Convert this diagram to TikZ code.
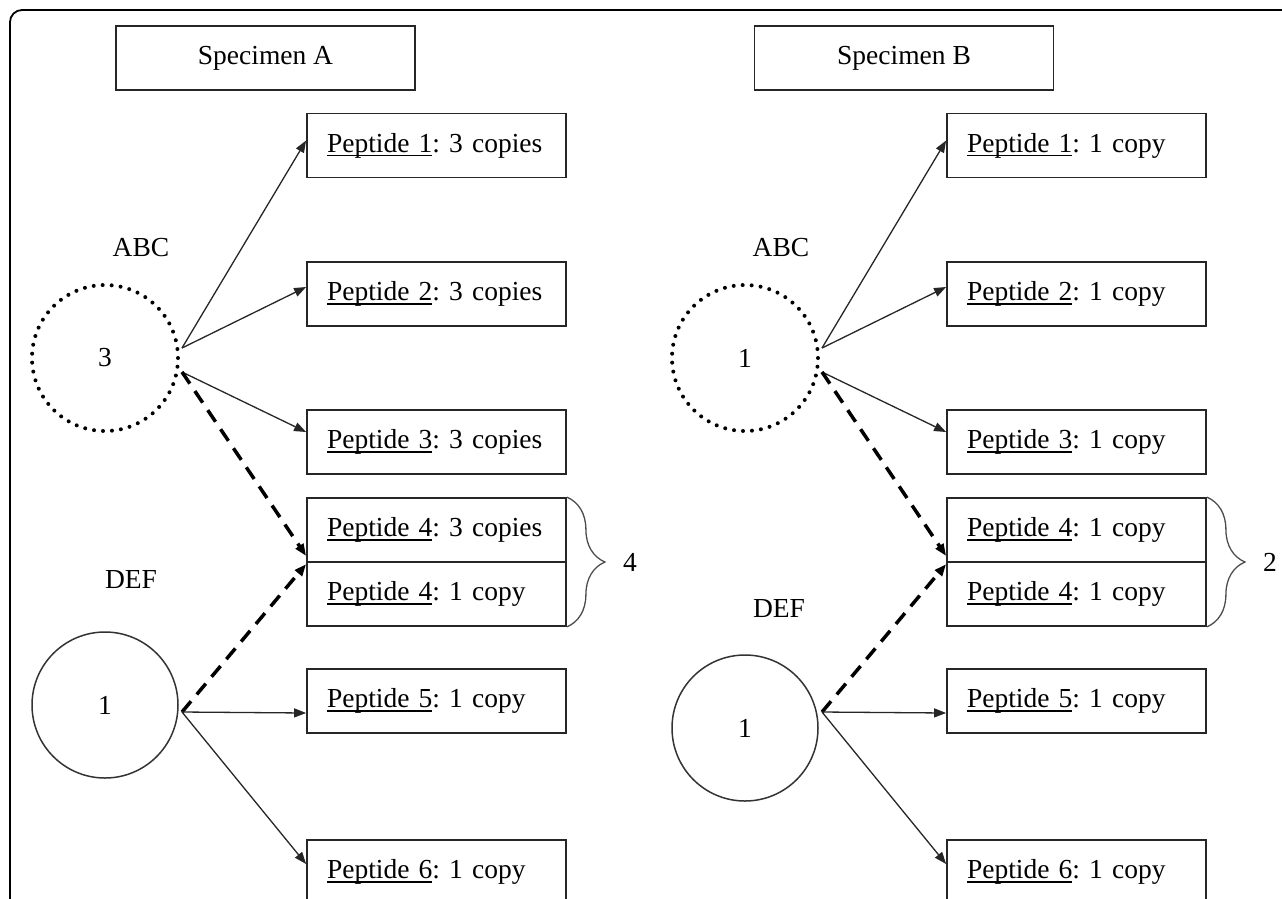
\documentclass[tikz,border=0pt]{standalone}
\usepackage{fontspec}
\setmainfont{Liberation Serif}
\usetikzlibrary{positioning,arrows.meta,calc,decorations.pathreplacing}

\frenchspacing
\newlength{\pepw}
\newcommand{\pepul}[1]{\settowidth{\pepw}{#1}\rlap{\rule[-4pt]{\pepw}{1.4pt}}#1}

\begin{document}
\begin{tikzpicture}[
  x=1pt, y=-1pt,
  font=\fontsize{27.5}{32}\selectfont,
  spec/.style={draw=black!85, line width=1.8pt, minimum width=299pt, minimum height=64pt, inner sep=0pt},
  pep/.style={draw=black!85, line width=1.8pt, minimum width=259pt, minimum height=64pt, text width=219pt, inner xsep=20pt, inner ysep=0pt, align=left},
  grp/.style={circle, draw=black!80, line width=1.5pt, minimum size=146pt, inner sep=0pt},
  dotgrp/.style={grp, draw=black, line width=4pt, dash pattern=on 0pt off 9pt, line cap=round},
  arr/.style={-{Triangle[length=12pt,width=9pt]}, draw=black!85, line width=1.3pt},
  darr/.style={arr, draw=black, line width=3.5pt, dash pattern=on 14pt off 9pt},
  brc/.style={draw=black!70, line width=1.3pt, decorate, decoration={brace, amplitude=38pt}}
]
\clip (0,0) rectangle (1282,898);
\draw[line width=1.8pt, rounded corners=12pt] (10,920) -- (10,10) -- (1300,10);

% specimen A
\node[spec] (specA) at (265.5,58) {Specimen A};
\node[pep] (aP1) at (436.5,145.5) {\pepul{Peptide 1}: 3 copies};
\node[pep] (aP2) at (436.5,294) {\pepul{Peptide 2}: 3 copies};
\node[pep] (aP3) at (436.5,442) {\pepul{Peptide 3}: 3 copies};
\node[pep] (aP4a) at (436.5,530) {\pepul{Peptide 4}: 3 copies};
\node[pep, below=-1.8pt of aP4a] (aP4b) {\pepul{Peptide 4}: 1 copy};
\node[pep] (aP5) at (436.5,701) {\pepul{Peptide 5}: 1 copy};
\node[pep] (aP6) at (436.5,872) {\pepul{Peptide 6}: 1 copy};
\node[dotgrp] (abcA) at (105,358) {3};
\node[grp] (defA) at (105,705) {1};
\node (abcAlbl) at (141,248) {ABC};
\node (defAlbl) at (131,580) {DEF};
\coordinate (abcAtop) at (182,348);
\coordinate (abcAbot) at (182,372);
\coordinate (defAout) at (182,712);
\draw[arr] (abcAtop) -- ([yshift=5pt]aP1.west);
\draw[arr] (abcAtop) -- ([yshift=7pt]aP2.west);
\draw[arr] (abcAbot) -- ([yshift=10pt]aP3.west);
\draw[darr] (abcAbot) -- ([yshift=7pt]aP4a.south west);
\draw[darr] (defAout) -- ([yshift=-3pt]aP4b.north west);
\draw[arr] (defAout) -- ([yshift=-12pt]aP5.west);
\draw[arr] (defAout) -- ([yshift=8pt]aP6.west);
\draw[brc] (aP4a.north east) -- (aP4b.south east);
\node (cntA) at (630,562) {4};

% specimen B
\node[spec] (specB) at (904,58) {Specimen B};
\node[pep] (bP1) at (1076.5,145.5) {\pepul{Peptide 1}: 1 copy};
\node[pep] (bP2) at (1076.5,294) {\pepul{Peptide 2}: 1 copy};
\node[pep] (bP3) at (1076.5,442) {\pepul{Peptide 3}: 1 copy};
\node[pep] (bP4a) at (1076.5,530) {\pepul{Peptide 4}: 1 copy};
\node[pep, below=-1.8pt of bP4a] (bP4b) {\pepul{Peptide 4}: 1 copy};
\node[pep] (bP5) at (1076.5,701) {\pepul{Peptide 5}: 1 copy};
\node[pep] (bP6) at (1076.5,872) {\pepul{Peptide 6}: 1 copy};
\node[dotgrp] (abcB) at (745,358) {1};
\node[grp] (defB) at (745,728) {1};
\node (abcBlbl) at (781,248) {ABC};
\node (defBlbl) at (779,609) {DEF};
\coordinate (abcBtop) at (822,348);
\coordinate (abcBbot) at (822,372);
\coordinate (defBout) at (822,712);
\draw[arr] (abcBtop) -- ([yshift=5pt]bP1.west);
\draw[arr] (abcBtop) -- ([yshift=7pt]bP2.west);
\draw[arr] (abcBbot) -- ([yshift=10pt]bP3.west);
\draw[darr] (abcBbot) -- ([yshift=7pt]bP4a.south west);
\draw[darr] (defBout) -- ([yshift=-3pt]bP4b.north west);
\draw[arr] (defBout) -- ([yshift=-12pt]bP5.west);
\draw[arr] (defBout) -- ([yshift=8pt]bP6.west);
\draw[brc] (bP4a.north east) -- (bP4b.south east);
\node (cntB) at (1270,562) {2};
\end{tikzpicture}
\end{document}
